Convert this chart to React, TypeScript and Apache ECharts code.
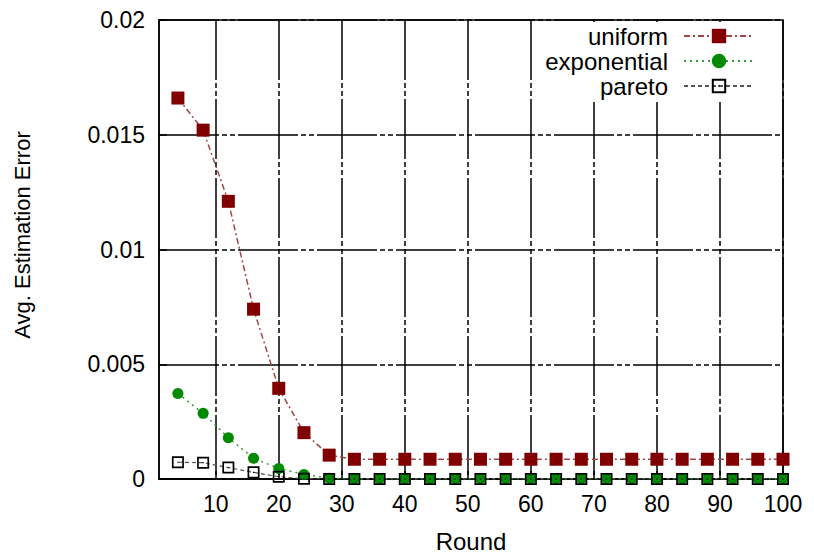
import React, { useEffect, useRef } from "react";
import * as echarts from "echarts";

const rounds = [4, 8, 12, 16, 20, 24, 28, 32, 36, 40, 44, 48, 52, 56, 60, 64, 68, 72, 76, 80, 84, 88, 92, 96, 100];
const uniform = [0.0166, 0.0152, 0.0121, 0.0074, 0.00395, 0.00202, 0.00104, 0.00086, 0.00086, 0.00086, 0.00086, 0.00086, 0.00086, 0.00086, 0.00086, 0.00086, 0.00086, 0.00086, 0.00086, 0.00086, 0.00086, 0.00086, 0.00086, 0.00086, 0.00086];
const exponential = [0.00373, 0.00286, 0.0018, 0.0009, 0.00046, 0.0002, 0.00003, 0.00001, 0.00001, 0.00001, 0.00001, 0.00001, 0.00001, 0.00001, 0.00001, 0.00001, 0.00001, 0.00001, 0.00001, 0.00001, 0.00001, 0.00001, 0.00001, 0.00001, 0.00001];
const pareto = [0.00073, 0.00071, 0.0005, 0.00029, 0.0001, 0.00001, 0, 0, 0, 0, 0, 0, 0, 0, 0, 0, 0, 0, 0, 0, 0, 0, 0, 0, 0];
const xTicks = [10, 20, 30, 40, 50, 60, 70, 80, 90, 100];
const seriesNames = ["uniform", "exponential", "pareto"];

const FONT = "'Liberation Sans', Arial, Helvetica, sans-serif";
const paretoSymbol =
  "path://M0,0H10V10H0Z M1.4,1.4V8.6H8.6V1.4Z M4.5,4.5H5.5V5.5H4.5Z";

export default function App() {
  const ref = useRef<HTMLDivElement>(null);
  useEffect(() => {
    if (!ref.current) return;
    const chart = echarts.init(ref.current, null, { renderer: "svg" });
    const gridDash = [60, 3, 5, 3, 5, 3];
    const pts = (vals: number[]) => rounds.map((r, i) => [r, vals[i]]);
    chart.setOption({
      animation: false,
      backgroundColor: "#fff",
      textStyle: { fontFamily: FONT },
      grid: {
        left: 159,
        top: 20,
        right: 31,
        bottom: 79,
        show: true,
        borderColor: "#000",
        borderWidth: 1.5,
        backgroundColor: "transparent",
      },
      legend: {
        orient: "vertical",
        align: "right",
        right: 53,
        top: 22,
        itemWidth: 70,
        itemHeight: 18,
        itemGap: 1,
        padding: [2, 6, 4, 4],
        backgroundColor: "#fff",
        data: seriesNames,
        textStyle: { fontSize: 24, color: "#000", fontFamily: FONT, lineHeight: 24, padding: [0, 11, 0, 0] },
      },
      xAxis: {
        type: "value",
        min: 1,
        max: 100,
        name: "Round",
        nameLocation: "middle",
        nameGap: 50,
        nameTextStyle: { fontSize: 24, color: "#000", fontFamily: FONT },
        axisLine: { show: true, onZero: false, lineStyle: { color: "#000", width: 1.5 } },
        axisTick: { show: true, inside: true, length: 8, customValues: xTicks, lineStyle: { color: "#000", width: 1.5 } },
        axisLabel: { customValues: xTicks, fontSize: 23, color: "#000", margin: 13, fontFamily: FONT },
        splitLine: { show: true, lineStyle: { color: "#000", width: 1.5, type: gridDash } },
      },
      yAxis: {
        type: "value",
        min: 0,
        max: 0.02,
        interval: 0.005,
        name: "Avg. Estimation Error",
        nameLocation: "middle",
        nameGap: 126,
        nameTextStyle: { fontSize: 22, color: "#000", fontFamily: FONT, padding: [0, 0, 0, 29] },
        axisLine: { show: true, lineStyle: { color: "#000", width: 1.5 } },
        axisTick: { show: true, inside: true, length: 8, lineStyle: { color: "#000", width: 1.5 } },
        axisLabel: { fontSize: 23, color: "#000", margin: 14, fontFamily: FONT },
        splitLine: { show: true, lineStyle: { color: "#000", width: 1.5, type: gridDash } },
      },
      series: [
        {
          name: "uniform",
          type: "line",
          data: pts(uniform),
          symbol: "rect",
          symbolSize: 13,
          itemStyle: { color: "#800000" },
          lineStyle: { color: "#a04848", width: 1.5, type: [6, 3, 2, 3] },
          z: 3,
        },
        {
          name: "exponential",
          type: "line",
          data: pts(exponential),
          symbol: "circle",
          symbolSize: 11,
          itemStyle: { color: "#008a00" },
          lineStyle: { color: "#3a9a3a", width: 1.5, type: [2, 4] },
          z: 4,
        },
        {
          name: "pareto",
          type: "line",
          data: pts(pareto),
          symbol: paretoSymbol,
          symbolSize: 12,
          itemStyle: { color: "#000" },
          lineStyle: { color: "#555", width: 1.2, type: [4, 3] },
          z: 5,
        },
      ],
    });
    return () => chart.dispose();
  }, []);
  return (
    <div
      ref={ref}
      style={{ position: "fixed", left: 0, top: 0, width: 814, height: 558, background: "#fff" }}
    />
  );
}
